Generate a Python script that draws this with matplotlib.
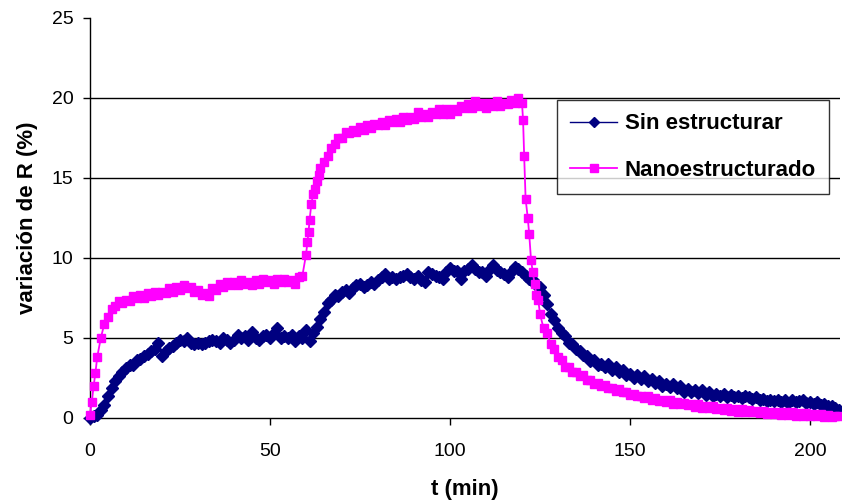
import numpy as np
import matplotlib.pyplot as plt

plt.rcParams['font.family'] = ['Liberation Sans', 'DejaVu Sans']

# Zeitachse in Minuten (1-min Raster)
t = np.arange(0, 209)

# Sin estructurar (navy)
sin_estr = [
    0.0, 0.1, 0.2, 0.5, 0.8, 1.4, 1.9, 2.3, 2.6, 2.9,
    3.1, 3.3, 3.3, 3.6, 3.7, 3.9, 4.0, 4.2, 4.3, 4.7,
    3.9, 4.2, 4.4, 4.5, 4.7, 4.9, 4.8, 5.0, 4.7, 4.6,
    4.7, 4.6, 4.7, 4.8, 4.9, 4.8, 4.7, 5.0, 4.9, 4.7,
    4.9, 5.2, 5.0, 5.1, 4.9, 5.4, 5.0, 4.9, 5.1, 5.2,
    5.0, 5.3, 5.6, 5.0, 5.1, 5.0, 5.2, 4.8, 5.1, 5.0,
    5.5, 4.8, 5.3, 5.7, 6.2, 6.6, 7.2, 7.4, 7.7, 7.6,
    7.9, 8.0, 7.8, 8.1, 8.3, 8.4, 8.2, 8.3, 8.5, 8.4,
    8.6, 8.8, 9.0, 8.7, 8.8, 8.7, 8.8, 8.9, 9.0, 8.8,
    8.7, 8.9, 8.6, 8.5, 9.1, 9.0, 8.9, 8.8, 8.7, 9.1,
    9.35, 9.2, 9.2, 8.7, 9.2, 9.3, 9.55, 9.3, 9.15, 9.1,
    8.9, 9.3, 9.55, 9.25, 9.1, 9.0, 8.8, 9.1, 9.45, 9.3,
    9.15, 8.9, 8.7, 8.6, 8.3, 8.2, 7.7, 7.1, 6.5, 6.1,
    5.6, 5.3, 5.1, 4.7, 4.6, 4.3, 4.2, 3.95, 3.9, 3.55,
    3.6, 3.3, 3.4, 3.2, 3.35, 3.0, 3.2, 2.9, 3.0, 2.7,
    2.75, 2.5, 2.7, 2.45, 2.6, 2.3, 2.45, 2.2, 2.3, 2.0,
    2.15, 1.95, 2.1, 1.9, 2.0, 1.65, 1.8, 1.6, 1.75, 1.55,
    1.75, 1.45, 1.6, 1.4, 1.5, 1.35, 1.5, 1.3, 1.45, 1.3,
    1.4, 1.25, 1.4, 1.3, 1.2, 1.3, 1.1, 1.2, 1.05, 1.15,
    1.05, 1.1, 1.0, 1.1, 0.95, 1.1, 1.0, 1.05, 1.15, 0.95,
    1.0, 0.9, 1.0, 0.8, 0.9, 0.75, 0.75, 0.6, 0.5,
]

# Nanoestructurado (magenta)
nano = [
    0.2, 2.0, 3.8, 5.0, 5.9, 6.3, 6.8, 7.0, 7.3, 7.2,
    7.4, 7.3, 7.6, 7.5, 7.7, 7.5, 7.8, 7.6, 7.9, 7.7,
    7.9, 7.8, 8.1, 7.9, 8.2, 8.0, 8.3, 8.1, 8.2, 7.9,
    8.0, 7.7, 7.8, 7.6, 8.1, 8.0, 8.4, 8.2, 8.5, 8.3,
    8.5, 8.3, 8.6, 8.4, 8.5, 8.3, 8.6, 8.4, 8.7, 8.5,
    8.6, 8.4, 8.7, 8.5, 8.7, 8.5, 8.6, 8.4, 8.8, 8.9,
    10.2, 12.4, 14.0, 14.8, 15.6, 16.0, 16.4, 16.9, 17.1, 17.5,
    17.5, 17.9, 17.8, 18.0, 17.9, 18.2, 18.0, 18.3, 18.1, 18.4,
    18.3, 18.5, 18.3, 18.6, 18.5, 18.7, 18.5, 18.8, 18.6, 18.8,
    18.7, 19.1, 18.8, 19.0, 18.8, 19.1, 19.0, 19.3, 19.0, 19.3,
    19.0, 19.3, 19.2, 19.5, 19.4, 19.6, 19.4, 19.8, 19.5, 19.7,
    19.4, 19.7, 19.5, 19.8, 19.5, 19.7, 19.6, 19.9, 19.7, 20.0,
    19.7, 13.7, 11.5, 9.1, 7.7, 6.5, 5.6, 5.3, 4.6, 4.3,
    3.8, 3.6, 3.2, 3.2, 2.9, 2.9, 2.6, 2.7, 2.4, 2.4,
    2.1, 2.2, 2.0, 2.05, 1.85, 1.9, 1.7, 1.8, 1.6, 1.65,
    1.45, 1.5, 1.35, 1.4, 1.25, 1.35, 1.15, 1.25, 1.05, 1.15,
    1.0, 1.1, 0.9, 1.0, 0.85, 0.95, 0.8, 0.9, 0.7, 0.85,
    0.65, 0.75, 0.6, 0.75, 0.55, 0.65, 0.5, 0.65, 0.45, 0.55,
    0.4, 0.55, 0.35, 0.5, 0.35, 0.45, 0.3, 0.45, 0.25, 0.4,
    0.25, 0.4, 0.2, 0.35, 0.2, 0.35, 0.15, 0.3, 0.15, 0.3,
    0.1, 0.25, 0.1, 0.25, 0.05, 0.2, 0.05, 0.15, 0.1,
]

# zusaetzliche Messpunkte in den steilen Flanken
t_nano_extra = [0.5, 1.5, 60.4, 60.7, 61.5, 62.5, 63.5, 120.3, 120.6, 121.6, 122.5, 123.5, 124.5]
nano_extra = [1.0, 2.8, 11.0, 11.6, 13.4, 14.3, 15.2, 18.6, 16.4, 12.5, 9.9, 8.4, 7.4]

t_nano = np.concatenate([t, t_nano_extra])
y_nano = np.concatenate([nano, nano_extra])
order = np.argsort(t_nano)
t_nano, y_nano = t_nano[order], y_nano[order]

fig = plt.figure(figsize=(8.42, 5.0), dpi=100)
ax = fig.add_axes([90/842, 82/500, 750/842, 400/500])

ax.plot(t, sin_estr, color='#000080', marker='D', markersize=6.5, linewidth=1,
        label='Sin estructurar', clip_on=False, zorder=3)
ax.plot(t_nano, y_nano, color='#FF00FF', marker='s', markersize=6.2, linewidth=1.3,
        label='Nanoestructurado', clip_on=False, zorder=4)

ax.set_xlim(0, 750/3.6)
ax.set_ylim(0, 25)
ax.set_xticks([0, 50, 100, 150, 200])
ax.set_yticks([0, 5, 10, 15, 20, 25])

for yv in [5, 10, 15, 20]:
    ax.axhline(yv, color='black', linewidth=1, zorder=1)

ax.spines['top'].set_visible(False)
ax.spines['right'].set_visible(False)
ax.spines['left'].set_linewidth(1)
ax.spines['bottom'].set_linewidth(1)
ax.tick_params(direction='out', length=5, width=1, labelsize=14)
ax.tick_params(axis='x', pad=13)
ax.tick_params(axis='y', pad=7)

ax.set_xlabel('t (min)', fontsize=16, fontweight='bold', labelpad=14)
ax.set_ylabel('variación de R (%)', fontsize=16, fontweight='bold', labelpad=10)

leg = ax.legend(loc='upper left', bbox_to_anchor=((557-90)/750, (418-100)/400),
                prop={'weight': 'bold', 'size': 16}, frameon=True,
                fancybox=False, shadow=False, handlelength=2.1, labelspacing=1.15,
                borderpad=0.6, handletextpad=0.35, borderaxespad=0)
leg.get_frame().set_edgecolor('black')
leg.get_frame().set_linewidth(1)
for h in leg.legend_handles:
    h.set_markersize(5.5)

plt.savefig('out.png', dpi=100)
